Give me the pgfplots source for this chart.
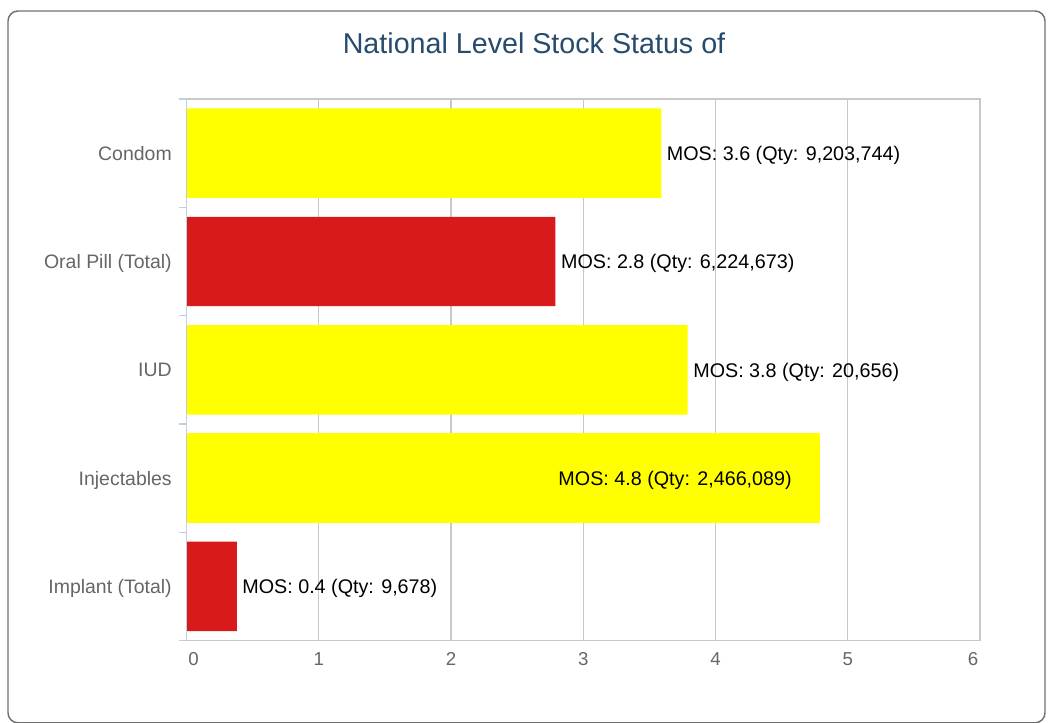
\documentclass[border=0pt]{standalone}
\usepackage{pgfplots}
\pgfplotsset{compat=1.18}
\usepackage{fontspec}
\setmainfont{Liberation Sans}
\definecolor{barY}{HTML}{FFFF00}
\definecolor{barR}{HTML}{D91A1A}
\definecolor{gridc}{HTML}{C8C8C8}
\definecolor{axisb}{HTML}{C0D0E0}
\definecolor{lab}{HTML}{666666}
\definecolor{ttl}{HTML}{274B6D}
\definecolor{frm}{HTML}{707070}
\begin{document}
\begin{tikzpicture}
\useasboundingbox (0,0) rectangle (789.75pt,541.5pt);
\draw[frm, line width=1.1pt, rounded corners=7.5pt] (6pt,-0.6pt) rectangle (783.75pt,533.25pt);
\node[anchor=base, text=ttl, font=\fontsize{21.5}{26}\selectfont, inner sep=0pt] at (400.5pt,501pt) {National Level Stock Status of};
\begin{axis}[
  at={(139.9pt,61.1pt)}, anchor=south west,
  scale only axis, width=595.1pt, height=406.1pt,
  xbar, bar shift=0pt, bar width=0.826,
  xmin=0, xmax=6, ymin=-0.5, ymax=4.5, y dir=reverse,
  xtick={0,1,2,3,4,5,6},
  xticklabels={\hspace*{10.5pt}0,1,2,3,4,5,6\hspace*{10.5pt}},
  ytick={0,1,2,3,4},
  yticklabels={Condom,Oral Pill (Total),IUD,Injectables,Implant (Total)},
  major tick length=0pt, tick style={draw=none},
  axis line style={draw=none},
  xmajorgrids, grid style={gridc, line width=0.9pt},
  xticklabel style={font=\fontsize{14}{16}\selectfont, text=lab, anchor=base, inner sep=0pt, yshift=-18.4pt},
  yticklabel style={font=\fontsize{14.6}{17}\selectfont, text=lab, anchor=base east, inner sep=0pt, xshift=-10.9pt, yshift=-5.2pt},
  nodes near coords, point meta=explicit symbolic,
  every node near coord/.append style={font=\fontsize{14.8}{17}\selectfont, text=black, anchor=base west, inner sep=0pt, xshift=4pt, yshift=-5.6pt},
  clip=false,
]
\addplot[fill=barY, draw=none] coordinates {(3.59,0) [{MOS: 3.6 (Qty: 9,203,744)}] (3.79,2) [{MOS: 3.8 (Qty: 20,656)}]};
\addplot[fill=barR, draw=none] coordinates {(2.79,1) [{MOS: 2.8 (Qty: 6,224,673)}] (0.38,4) [{MOS: 0.4 (Qty: 9,678)}]};
\addplot[fill=barY, draw=none, every node near coord/.append style={anchor=base east, xshift=-25pt}] coordinates {(4.79,3) [{MOS: 4.8 (Qty: 2,466,089)}]};
\draw[gridc, line width=1.1pt] (axis cs:0,-0.5) -- (axis cs:6,-0.5) -- (axis cs:6,4.5) -- (axis cs:0,4.5);
\draw[axisb, line width=1pt] (axis cs:0,-0.5) -- (axis cs:0,4.5);
\pgfplotsinvokeforeach{-0.5,0.5,1.5,2.5,3.5,4.5}{\draw[axisb, line width=1pt] (axis cs:0,#1) -- ++(-6pt,0pt);}
\end{axis}
\end{tikzpicture}
\end{document}
